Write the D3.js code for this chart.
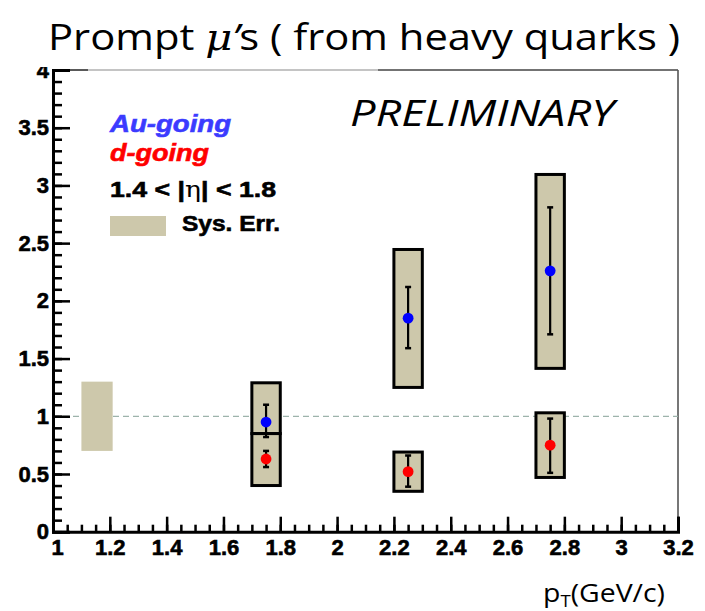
<!DOCTYPE html>
<html>
<head>
<meta charset="utf-8">
<script src="https://cdn.jsdelivr.net/npm/d3@7"></script>
<style>
  html, body { margin: 0; padding: 0; background: #fff; }
  svg { display: block; }
</style>
</head>
<body>
<svg id="chart" width="705" height="611"></svg>
<script>
// pT bins (GeV/c)
const binCenters = [1.75, 2.25, 2.75];
const binLow = [1.7, 2.2, 2.7];
const binHigh = [1.8, 2.3, 2.8];

// Au-going direction: ratio, statistical and systematic ranges
const auValues = [0.95, 1.85, 2.26];
const auStatLow = [0.82, 1.59, 1.71];
const auStatHigh = [1.10, 2.12, 2.81];
const auSysLow = [0.85, 1.25, 1.415];
const auSysHigh = [1.29, 2.445, 3.095];

// d-going direction
const dValues = [0.63, 0.52, 0.75];
const dStatLow = [0.56, 0.39, 0.51];
const dStatHigh = [0.70, 0.66, 0.98];
const dSysLow = [0.40, 0.35, 0.47];
const dSysHigh = [0.85, 0.69, 1.03];

// global normalisation uncertainty drawn at unity
const normBoxX = [1.1, 1.21];
const normBoxY = [0.70, 1.30];

// axis ticks
const xTicks = [1, 1.2, 1.4, 1.6, 1.8, 2, 2.2, 2.4, 2.6, 2.8, 3, 3.2];
const xTickLabels = ["1", "1.2", "1.4", "1.6", "1.8", "2", "2.2", "2.4", "2.6", "2.8", "3", "3.2"];
const yTicks = [0, 0.5, 1, 1.5, 2, 2.5, 3, 3.5, 4];
const yTickLabels = ["0", "0.5", "1", "1.5", "2", "2.5", "3", "3.5", "4"];

const svg = d3.select("#chart");
const W = 705, H = 611;
const frame = { left: 53, right: 678, top: 70, bottom: 531.7 };

const x = d3.scaleLinear().domain([1, 3.2]).range([frame.left, frame.right]);
const y = d3.scaleLinear().domain([0, 4]).range([frame.bottom, frame.top]);

const sysFill = "#cdc8ab";
const blue = "#0000ff";
const red = "#ff0000";
const boldFont = "'Liberation Sans', Arial, sans-serif";

// frame: top and right edges
svg.append("line").attr("x1", x(1)).attr("x2", 88).attr("y1", y(4)).attr("y2", y(4))
  .attr("stroke", "#222").attr("stroke-width", 1.5);
svg.append("line").attr("x1", 88).attr("x2", 378).attr("y1", y(4)).attr("y2", y(4))
  .attr("stroke", "#8a8a8a").attr("stroke-width", 1.2);
svg.append("line").attr("x1", 378).attr("x2", x(3.2)).attr("y1", y(4)).attr("y2", y(4))
  .attr("stroke", "#444").attr("stroke-width", 1.5);
svg.append("line").attr("x1", x(3.2)).attr("x2", x(3.2)).attr("y1", y(4)).attr("y2", y(0))
  .attr("stroke", "#555").attr("stroke-width", 1.6);

// reference line at unity
svg.append("line")
  .attr("x1", x(1)).attr("x2", x(3.2)).attr("y1", y(1)).attr("y2", y(1))
  .attr("stroke", "#9db3ab").attr("stroke-width", 1.3).attr("stroke-dasharray", "6,4");

// normalisation box
svg.append("rect")
  .attr("x", x(normBoxX[0])).attr("width", x(normBoxX[1]) - x(normBoxX[0]))
  .attr("y", y(normBoxY[1])).attr("height", y(normBoxY[0]) - y(normBoxY[1]))
  .attr("fill", sysFill);

// systematic boxes
function sysBoxes(lo, hi) {
  svg.append("g").selectAll("rect").data(binCenters).join("rect")
    .attr("x", (d, i) => x(binLow[i]))
    .attr("width", (d, i) => x(binHigh[i]) - x(binLow[i]))
    .attr("y", (d, i) => y(hi[i]))
    .attr("height", (d, i) => y(lo[i]) - y(hi[i]))
    .attr("fill", sysFill).attr("stroke", "#000").attr("stroke-width", 3);
}
sysBoxes(auSysLow, auSysHigh);
sysBoxes(dSysLow, dSysHigh);

// statistical error bars and markers
function series(vals, lo, hi, color) {
  const g = svg.append("g");
  g.selectAll("line.bar").data(vals).join("line").attr("class", "bar")
    .attr("x1", (d, i) => x(binCenters[i])).attr("x2", (d, i) => x(binCenters[i]))
    .attr("y1", (d, i) => y(lo[i])).attr("y2", (d, i) => y(hi[i]))
    .attr("stroke", "#000").attr("stroke-width", 2.2);
  [lo, hi].forEach(arr => {
    g.selectAll(null).data(vals).join("line")
      .attr("x1", (d, i) => x(binCenters[i]) - 3).attr("x2", (d, i) => x(binCenters[i]) + 3)
      .attr("y1", (d, i) => y(arr[i])).attr("y2", (d, i) => y(arr[i]))
      .attr("stroke", "#000").attr("stroke-width", 2.5);
  });
  g.selectAll("circle").data(vals).join("circle")
    .attr("cx", (d, i) => x(binCenters[i])).attr("cy", d => y(d))
    .attr("r", 5.4).attr("fill", color);
}
series(auValues, auStatLow, auStatHigh, blue);
series(dValues, dStatLow, dStatHigh, red);

// heavy bold label styling shared by axes and legend
function heavy(sel, size, fill) {
  sel.attr("font-family", boldFont).attr("font-weight", "bold").attr("font-size", size)
    .attr("fill", fill).attr("stroke", fill).attr("stroke-width", 0.6);
}

// y axis: major ticks with labels, minor ticks every 0.1
const yMinor = d3.range(0, 4.0001, 0.1);
svg.append("g").attr("transform", `translate(${frame.left},0)`)
  .call(d3.axisLeft(y).tickValues(yMinor).tickSize(-9).tickFormat(""))
  .call(g => g.select(".domain").remove())
  .call(g => g.selectAll("line").attr("stroke-width", 2.5));
const yAxisG = svg.append("g").attr("transform", `translate(${frame.left},0)`)
  .call(d3.axisLeft(y).tickValues(yTicks).tickSize(-17).tickPadding(4)
    .tickFormat((d, i) => yTickLabels[i]));
yAxisG.select(".domain").attr("stroke-width", 3);
yAxisG.selectAll("line").attr("stroke-width", 2.5);
heavy(yAxisG.selectAll("text"), 22, "#000");

// x axis: major ticks every 0.2, minor every 0.05
const xMinor = d3.range(1, 3.2001, 0.05);
svg.append("g").attr("transform", `translate(0,${frame.bottom})`)
  .call(d3.axisBottom(x).tickValues(xMinor).tickSize(-7).tickFormat(""))
  .call(g => g.select(".domain").remove())
  .call(g => g.selectAll("line").attr("stroke-width", 2.5));
const xAxisG = svg.append("g").attr("transform", `translate(0,${frame.bottom})`)
  .call(d3.axisBottom(x).tickValues(xTicks).tickSize(-15).tickPadding(8)
    .tickFormat((d, i) => xTickLabels[i]));
xAxisG.select(".domain").attr("stroke-width", 3);
xAxisG.selectAll("line").attr("stroke-width", 2.5);
heavy(xAxisG.selectAll("text"), 22, "#000");
// the first label sits just right of the corner, clear of the y-axis "0"
xAxisG.selectAll("text").filter(d => d === xTicks[0]).attr("dx", 4);

// white band above the frame hides the clipped top label
svg.append("rect").attr("x", 0).attr("y", 0).attr("width", W).attr("height", 67).attr("fill", "#fff");

// title
const title = svg.append("text").attr("x", 48).attr("y", 50)
  .attr("font-family", "'Open Sans', sans-serif").attr("font-size", 37).attr("fill", "#000")
  .attr("textLength", 632).attr("lengthAdjust", "spacingAndGlyphs");
title.append("tspan").text("Prompt ");
title.append("tspan").attr("font-family", "'DejaVu Serif', serif").attr("font-style", "italic").text("μ");
title.append("tspan").attr("font-style", "italic").text("’");
title.append("tspan").text("s ( from heavy quarks )");

// preliminary tag
svg.append("text").attr("x", 350).attr("y", 126)
  .attr("font-family", "'Open Sans', sans-serif").attr("font-style", "italic").attr("font-size", 36)
  .attr("textLength", 264).attr("lengthAdjust", "spacingAndGlyphs")
  .text("PRELIMINARY");

// legend
heavy(svg.append("text").attr("x", 110).attr("y", 132).attr("font-style", "italic")
  .attr("textLength", 121).attr("lengthAdjust", "spacingAndGlyphs")
  .text("Au-going"), 24, "#3b3bff");
heavy(svg.append("text").attr("x", 110).attr("y", 161).attr("font-style", "italic")
  .attr("textLength", 99).attr("lengthAdjust", "spacingAndGlyphs")
  .text("d-going"), 24, red);
const etaText = svg.append("text").attr("x", 110).attr("y", 197)
  .attr("textLength", 166).attr("lengthAdjust", "spacingAndGlyphs");
heavy(etaText, 22, "#000");
etaText.append("tspan").text("1.4 < |");
etaText.append("tspan").attr("font-family", "'DejaVu Serif', serif").attr("font-weight", "normal")
  .attr("stroke-width", 0).text("η");
etaText.append("tspan").text("| < 1.8");
svg.append("rect").attr("x", 110).attr("y", 216).attr("width", 56).attr("height", 20).attr("fill", sysFill);
heavy(svg.append("text").attr("x", 182).attr("y", 231)
  .attr("textLength", 98).attr("lengthAdjust", "spacingAndGlyphs")
  .text("Sys. Err."), 22, "#000");

// x axis title
const xTitle = svg.append("text").attr("x", 543).attr("y", 602)
  .attr("font-family", "'Open Sans', sans-serif").attr("font-size", 26).attr("fill", "#000")
  .attr("textLength", 122).attr("lengthAdjust", "spacingAndGlyphs");
xTitle.append("tspan").text("p");
xTitle.append("tspan").attr("font-size", 17).attr("dy", 5).text("T");
xTitle.append("tspan").attr("dy", -5).text("(GeV/c)");
</script>
</body>
</html>
